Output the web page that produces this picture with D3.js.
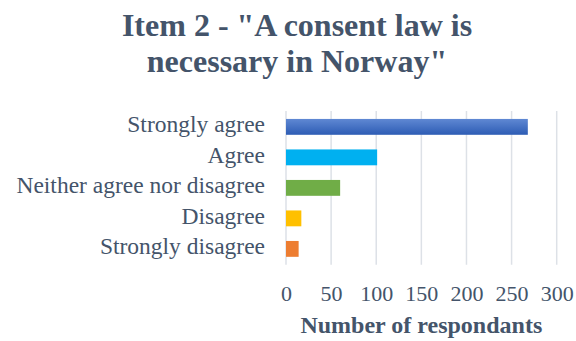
<!DOCTYPE html>
<html>
<head>
<meta charset="utf-8">
<script src="https://cdn.jsdelivr.net/npm/d3@7"></script>
<style>
  html, body { margin: 0; padding: 0; background: #fff; }
  svg { display: block; }
</style>
</head>
<body>
<svg id="chart" width="576" height="341"></svg>
<script>
// Survey responses to Item 2
const categories = ["Strongly agree", "Agree", "Neither agree nor disagree", "Disagree", "Strongly disagree"];
const respondents = [268, 101, 60, 17, 14];
const barColors = ["url(#blueGrad)", "#00b0f0", "#70ad47", "#ffc000", "#ed7d31"];
const tickValues = [0, 50, 100, 150, 200, 250, 300];
const titleLines = ["Item 2 - \"A consent law is", "necessary in Norway\""];
const axisTitle = "Number of respondants";

const FONT = "Liberation Serif, Times New Roman, serif";
const INK = "#44546a";

const svg = d3.select("#chart")
  .attr("font-family", FONT)
  .style("font-family", FONT);
const plot = { left: 286, right: 556.7, top: 111, bottom: 264.75 };

const defs = svg.append("defs");
const grad = defs.append("linearGradient").attr("id", "blueGrad")
  .attr("x1", 0).attr("y1", 0).attr("x2", 0).attr("y2", 1);
grad.append("stop").attr("offset", "0%").attr("stop-color", "#5f88d3");
grad.append("stop").attr("offset", "100%").attr("stop-color", "#2d5cb4");

const x = d3.scaleLinear().domain([0, 300]).range([plot.left, plot.right]);
const y = d3.scaleBand().domain(categories).range([plot.top, plot.bottom]).paddingInner(0.48).paddingOuter(0.26);

// Vertical gridlines
svg.append("g").selectAll("line").data(tickValues).join("line")
  .attr("x1", d => x(d)).attr("x2", d => x(d))
  .attr("y1", plot.top).attr("y2", plot.bottom)
  .attr("stroke", "#dde1e7").attr("stroke-width", 1.5);

// Bars
svg.append("g").selectAll("rect").data(categories).join("rect")
  .attr("x", x(0))
  .attr("y", d => y(d))
  .attr("width", (d, i) => x(respondents[i]) - x(0))
  .attr("height", y.bandwidth())
  .attr("fill", (d, i) => barColors[i]);

function styleText(sel, size, weight) {
  sel.attr("font-family", FONT).style("font-family", FONT)
    .attr("font-size", size).attr("font-weight", weight || "normal")
    .attr("fill", INK);
}

// Category labels
const yAxis = d3.axisLeft(y).tickSize(0).tickPadding(0);
const gy = svg.append("g").attr("transform", "translate(265,0)").call(yAxis);
gy.attr("font-family", FONT);
gy.select(".domain").remove();
gy.selectAll("text").call(styleText, 23.5).attr("dy", "0.23em");

// Value axis labels
const xAxis = d3.axisBottom(x).tickValues(tickValues).tickSize(0).tickPadding(0);
const gx = svg.append("g").attr("transform", "translate(0,300.5)").call(xAxis);
gx.attr("font-family", FONT);
gx.select(".domain").remove();
gx.selectAll("text").call(styleText, 22).attr("dy", "0");

// Axis title
svg.append("text")
  .attr("x", (plot.left + plot.right) / 2).attr("y", 333)
  .attr("text-anchor", "middle")
  .call(styleText, 24, "bold")
  .text(axisTitle);

// Chart title
svg.append("g").selectAll("text").data(titleLines).join("text")
  .attr("x", 297).attr("y", (d, i) => 36 + i * 36)
  .attr("text-anchor", "middle")
  .call(styleText, 32, "bold")
  .text(d => d);
</script>
</body>
</html>
